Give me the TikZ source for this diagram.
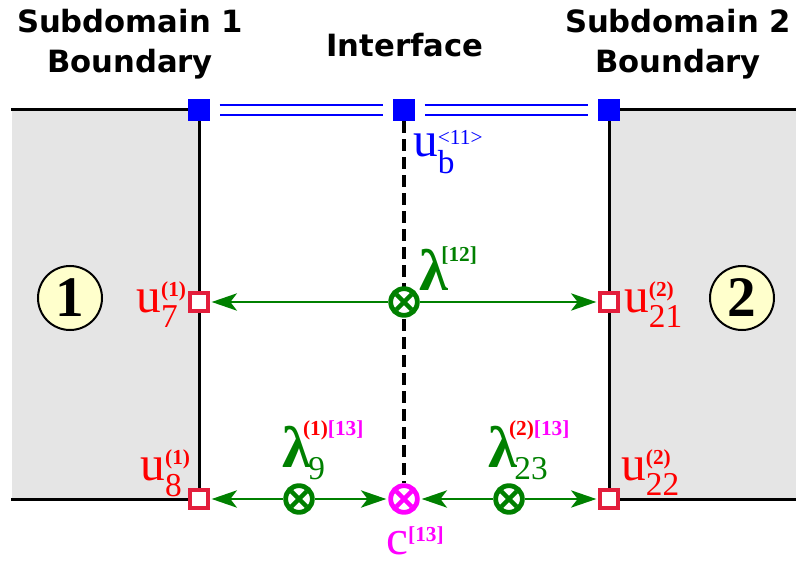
\documentclass[tikz,border=0pt]{standalone}
\usepackage{amsmath}
\usepackage{fontspec}
\setmainfont{Liberation Serif}
\newfontfamily\hdrfont{DejaVu Sans}
\usetikzlibrary{arrows.meta,positioning}

\definecolor{domgray}{RGB}{229,229,229}
\definecolor{domyellow}{RGB}{255,255,204}
\definecolor{dofred}{RGB}{227,30,60}
\definecolor{lamgreen}{RGB}{0,128,0}
\definecolor{cmag}{RGB}{255,0,255}

% superscript / subscript text in labels
\newcommand{\sups}[1]{\text{\fontsize{16}{16}\selectfont\bfseries #1}}
\newcommand{\subs}[1]{\text{\fontsize{25}{25}\selectfont #1}}
\newcommand{\lam}{\text{\fontsize{44}{44}\selectfont\bfseries λ}}

\begin{document}
\begin{tikzpicture}[
  x=0.75pt, y=-0.75pt,
  wall/.style={line width=2.25pt, line cap=rect},
  hdr/.style={font=\hdrfont\bfseries\fontsize{23}{30}\selectfont, align=center, inner sep=0pt},
  dof/.style={rectangle, draw=dofred, fill=white, line width=3pt, minimum size=13pt, inner sep=0pt},
  ifdof/.style={rectangle, fill=blue, minimum size=16.5pt, inner sep=0pt},
  mult/.style={circle, draw=#1, fill=white, line width=3.6pt, minimum size=20pt, inner sep=0pt,
    path picture={\draw[#1, line width=3.2pt]
      ([shift={(-5.8pt,-5.8pt)}]path picture bounding box.center) -- ([shift={(5.8pt,5.8pt)}]path picture bounding box.center)
      ([shift={(-5.8pt,5.8pt)}]path picture bounding box.center) -- ([shift={(5.8pt,-5.8pt)}]path picture bounding box.center);}},
  domnum/.style={circle, draw=black, fill=domyellow, line width=1.5pt, minimum size=48pt, inner sep=0pt,
    font=\bfseries\fontsize{43}{43}\selectfont},
  lbl/.style={inner sep=0pt, font=\fontsize{37}{37}\selectfont},
  link/.style={-{Stealth[length=19pt, width=13pt, inset=5pt]}, line width=1.5pt, lamgreen, shorten >=1.5pt},
  ifline/.style={draw=blue, line width=1.6pt, double=white, double distance=6.4pt, shorten <=7pt, shorten >=7pt},
  iface/.style={black, line width=2.6pt, dash pattern=on 9pt off 4.5pt}
]
  % clip the page to the drawing area
  \useasboundingbox (0,0) rectangle (796,563);

  % corners of the two subdomains
  \coordinate (l1) at (12,110);
  \coordinate (l2) at (199,110);
  \coordinate (l3) at (199,499);
  \coordinate (l4) at (12,499);
  \coordinate (r1) at (796,110);
  \coordinate (r2) at (609,110);
  \coordinate (r3) at (609,499);
  \coordinate (r4) at (796,499);

  % subdomains
  \fill[domgray] (l1) rectangle (l3);
  \fill[domgray] (r2) rectangle (r4);
  \draw[wall] (l1) -- (l2) -- (l3) -- (l4);
  \draw[wall] (r1) -- (r2) -- (r3) -- (r4);

  % headings
  \node[hdr] (hdr1) at (130,44) {Subdomain 1\\Boundary};
  \node[hdr] (hdr2) at (678,44) {Subdomain 2\\Boundary};
  \node[hdr, anchor=base] (hdrif) at (405,57) {Interface};

  % interface dofs
  \node[ifdof] (b1) at (l2) {};
  \node[ifdof] (b11) at (404,110) {};
  \node[ifdof] (b2) at (r2) {};
  \draw[ifline] (b1) -- (b11);
  \draw[ifline] (b11) -- (b2);

  % interface line, under the multipliers
  \node[mult=cmag] (c13) at (404,499) {};
  \draw[iface] (b11.south) -- (c13.north);

  % multipliers
  \node[mult=lamgreen] (lam12) at (404,302) {};
  \node[mult=lamgreen] (lam9) at (299,499) {};
  \node[mult=lamgreen] (lam23) at (509,499) {};

  % subdomain dofs
  \node[dof] (u7) at (199,302) {};
  \node[dof] (u21) at (609,302) {};
  \node[dof] (u8) at (l3) {};
  \node[dof] (u22) at (r3) {};

  % subdomain numbers
  \node[domnum] (dom1) at (70,298) {1};
  \node[domnum] (dom2) at (742,298) {2};

  % links
  \draw[link] (lam12) -- (u7);
  \draw[link] (lam12) -- (u21);
  \draw[link] (lam9) -- (u8);
  \draw[link] (lam9) -- (c13);
  \draw[link] (lam23) -- (c13);
  \draw[link] (lam23) -- (u22);

  % labels
  \node[lbl, text=blue, anchor=base west] (ub) at (413,157)
    {$\text{u}^{\text{\fontsize{16}{16}\selectfont<11>}}_{\subs{b}}$};
  \node[lbl, text=red, anchor=base east] (u7l) at (187,312)
    {$\text{u}^{\sups{(1)}}_{\subs{7}}$};
  \node[lbl, text=red, anchor=base west] (u21l) at (624,312)
    {$\text{u}^{\sups{(2)}}_{\subs{21}}$};
  \node[lbl, text=red, anchor=base east] (u8l) at (191,480)
    {$\text{u}^{\sups{(1)}}_{\subs{8}}$};
  \node[lbl, text=red, anchor=base west] (u22l) at (621,480)
    {$\text{u}^{\sups{(2)}}_{\subs{22}}$};
  \node[lbl, text=lamgreen, anchor=base west] (lam12l) at (419,290)
    {$\lam^{\sups{\kern-5pt[12]}}$};
  \node[lbl, text=lamgreen, anchor=base west] (lam9l) at (282,467)
    {$\lam^{\sups{\kern-6pt\raisebox{2pt}{\color{red}(1)\color{cmag}[13]}}}_{\subs{\kern-2pt\raisebox{-3pt}{9}}}$};
  \node[lbl, text=lamgreen, anchor=base west] (lam23l) at (488,467)
    {$\lam^{\sups{\kern-6pt\raisebox{2pt}{\color{red}(2)\color{cmag}[13]}}}_{\subs{\kern-2pt\raisebox{-3pt}{23}}}$};
  \node[lbl, text=cmag, anchor=base west] (c13l) at (386,554)
    {$\text{c}^{\sups{[13]}}$};
\end{tikzpicture}
\end{document}
